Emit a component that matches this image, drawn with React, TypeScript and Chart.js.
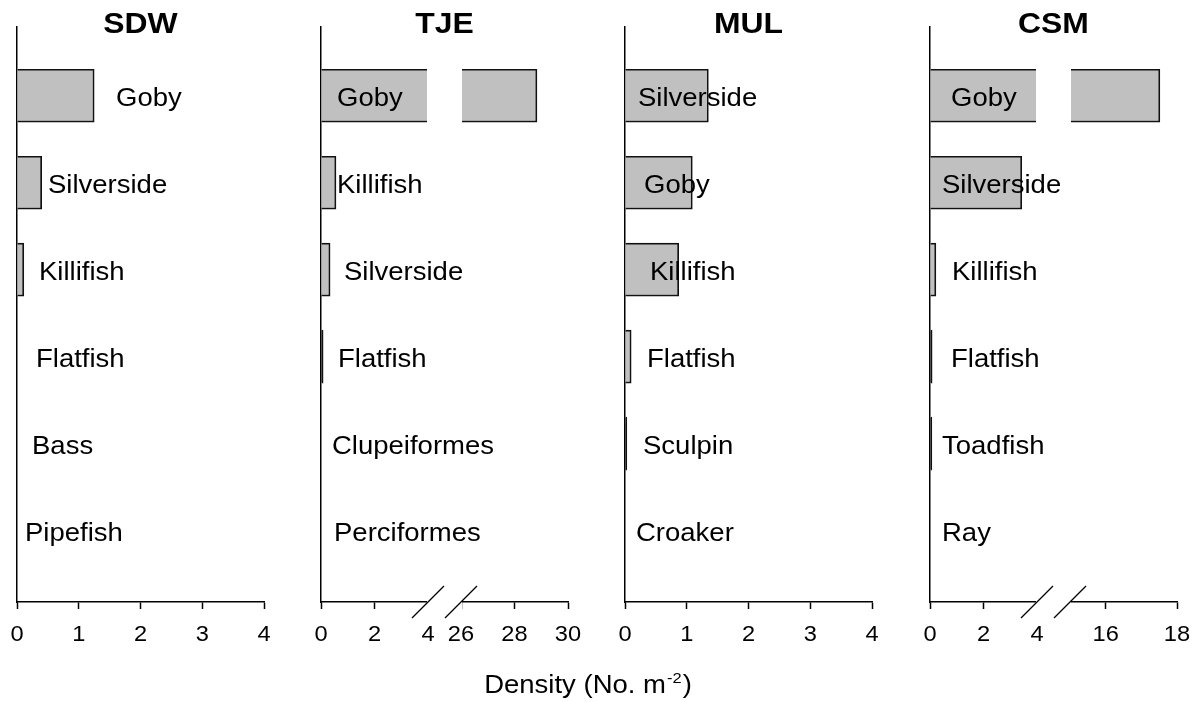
import React, { useEffect, useRef } from "react";
import { Chart, registerables } from "chart.js";
Chart.register(...registerables);

// ---------------- data ----------------
const siteNames = ["SDW", "TJE", "MUL", "CSM"];

const sdwSpecies = ["Goby", "Silverside", "Killifish", "Flatfish", "Bass", "Pipefish"];
const sdwDensity = [1.25, 0.4, 0.11, 0, 0, 0];
const tjeSpecies = ["Goby", "Killifish", "Silverside", "Flatfish", "Clupeiformes", "Perciformes"];
const tjeDensity = [28.84, 0.56, 0.34, 0.08, 0, 0];
const mulSpecies = ["Silverside", "Goby", "Killifish", "Flatfish", "Sculpin", "Croaker"];
const mulDensity = [1.35, 1.09, 0.87, 0.1, 0.03, 0];
const csmSpecies = ["Goby", "Silverside", "Killifish", "Flatfish", "Toadfish", "Ray"];
const csmDensity = [17.52, 3.43, 0.22, 0.08, 0.07, 0];

const sdwTicks = [0, 1, 2, 3, 4];
const tjeTicks = [0, 2, 4, 26, 28, 30];
const mulTicks = [0, 1, 2, 3, 4];
const csmTicks = [0, 2, 4, 16, 18];

// axis segments (broken axes have two)
const sdwRanges = [[0, 4]];
const tjeRanges = [[0, 4], [26, 30]];
const mulRanges = [[0, 4]];
const csmRanges = [[0, 4], [15, 18]];

const axisTitleMain = "Density (No. m";
const axisTitleSup = "-2";
const axisTitleEnd = ")";

// ---------------- layout / style ----------------
const W = 1195;
const H = 702;
const PANEL_LEFT = [17, 321, 625, 930];
const PANEL_W = 247;
const PLOT_TOP = 27;
const PLOT_BOTTOM = 602;
const BREAK_GAP = 33;
const Y_MIN = -0.79;
const Y_MAX = 5.82;
const BAR_THICK = 53;
const SX = 1.1; // horizontal text stretch
const FONT = "'Liberation Sans', Arial, sans-serif";
const LABEL_OFFSET = [
  [100, 32, 23, 20, 16, 9],
  [17, 17, 24, 18, 12, 14],
  [14, 20, 26, 23, 19, 12],
  [22, 13, 23, 22, 13, 13],
];

const panels = [
  { name: siteNames[0], species: sdwSpecies, density: sdwDensity, ticks: sdwTicks, ranges: sdwRanges },
  { name: siteNames[1], species: tjeSpecies, density: tjeDensity, ticks: tjeTicks, ranges: tjeRanges },
  { name: siteNames[2], species: mulSpecies, density: mulDensity, ticks: mulTicks, ranges: mulRanges },
  { name: siteNames[3], species: csmSpecies, density: csmDensity, ticks: csmTicks, ranges: csmRanges },
];

function makeMap(ranges: number[][]) {
  const n = ranges.length;
  const segW = (PANEL_W - BREAK_GAP * (n - 1)) / n;
  const toDisp = (v: number) => {
    for (let i = 0; i < n; i++) {
      const [a, b] = ranges[i];
      const start = i * (segW + BREAK_GAP);
      if (v <= b || i === n - 1) {
        return start + ((v - a) / (b - a)) * segW;
      }
    }
    return 0;
  };
  const gaps: number[][] = [];
  for (let i = 0; i < n - 1; i++) {
    gaps.push([i * (segW + BREAK_GAP) + segW, (i + 1) * (segW + BREAK_GAP)]);
  }
  return { toDisp, gaps };
}

function sText(ctx: any, text: string, x: number, y: number, align: string, font: string) {
  ctx.save();
  ctx.font = font;
  ctx.textBaseline = "alphabetic";
  ctx.textAlign = "left";
  ctx.fillStyle = "#000";
  const w = ctx.measureText(text).width * SX;
  const x0 = align === "center" ? x - w / 2 : x;
  ctx.translate(x0, y);
  ctx.scale(SX, 1);
  ctx.fillText(text, 0, 0);
  ctx.restore();
  return w;
}

function textWidth(ctx: any, text: string, font: string) {
  ctx.save();
  ctx.font = font;
  const w = ctx.measureText(text).width * SX;
  ctx.restore();
  return w;
}

function Panel({ index }: { index: number }) {
  const ref = useRef<HTMLCanvasElement | null>(null);
  useEffect(() => {
    const p = panels[index];
    const { toDisp, gaps } = makeMap(p.ranges);
    const panelPlugin = {
      id: "panelDecor" + index,
      afterDraw(chart: any) {
        const ctx = chart.ctx;
        const xs = chart.scales.x;
        const ys = chart.scales.y;
        const area = chart.chartArea;
        // axis breaks
        for (const [g0, g1] of gaps) {
          const p0 = xs.getPixelForValue(g0);
          const p1 = xs.getPixelForValue(g1);
          ctx.save();
          ctx.fillStyle = "#fff";
          ctx.fillRect(p0 - 1, area.top, p1 - p0 + 2, area.bottom - area.top + 10);
          ctx.strokeStyle = "#000";
          ctx.lineWidth = 1.3;
          for (const px of [p0, p1]) {
            ctx.beginPath();
            ctx.moveTo(px - 16, area.bottom + 16);
            ctx.lineTo(px + 16, area.bottom - 16);
            ctx.stroke();
          }
          ctx.restore();
        }
        // species labels
        p.species.forEach((s, i) => {
          const y = ys.getPixelForValue(i) + 10.5;
          sText(ctx, s, area.left + LABEL_OFFSET[index][i] - 1, y, "left", `25px ${FONT}`);
        });
        // tick labels
        p.ticks.forEach((t) => {
          const px = xs.getPixelForValue(toDisp(t));
          sText(ctx, String(t), px, 641, "center", `21.5px ${FONT}`);
        });
        // site title
        sText(ctx, p.name, (area.left + area.right) / 2, 33, "center", `bold 29px ${FONT}`);
        // common x-axis title
        if (index === panels.length - 1) {
          const fMain = `25px ${FONT}`;
          const fSup = `15px ${FONT}`;
          const w1 = textWidth(ctx, axisTitleMain, fMain);
          const w2 = textWidth(ctx, axisTitleSup, fSup);
          const w3 = textWidth(ctx, axisTitleEnd, fMain);
          const total = w1 + w2 + w3 + 2;
          let x = 588 - total / 2;
          sText(ctx, axisTitleMain, x, 693, "left", fMain);
          x += w1 + 1;
          sText(ctx, axisTitleSup, x, 683, "left", fSup);
          x += w2 + 1;
          sText(ctx, axisTitleEnd, x, 693, "left", fMain);
        }
      },
    };

    const chart = new Chart(ref.current as HTMLCanvasElement, {
      type: "bar",
      data: {
        datasets: [
          {
            data: p.density.map((v, i) => ({ x: toDisp(v), y: i })),
            // very thin bars read as a solid outline stroke
            backgroundColor: (c: any) => {
              const raw = c.raw;
              return raw && raw.x < 3 ? "#111" : "#c0c0c0";
            },
            borderColor: "#111",
            borderWidth: 1.7,
            borderSkipped: "start",
            barThickness: BAR_THICK,
          },
        ],
      },
      options: {
        indexAxis: "y",
        animation: false,
        responsive: false,
        devicePixelRatio: 1,
        events: [],
        layout: {
          padding: {
            left: PANEL_LEFT[index],
            right: W - PANEL_LEFT[index] - PANEL_W,
            top: PLOT_TOP,
            bottom: 0,
          },
        },
        plugins: { legend: { display: false }, tooltip: { enabled: false }, title: { display: false } },
        scales: {
          x: {
            type: "linear",
            position: "bottom",
            min: 0,
            max: PANEL_W,
            offset: false,
            afterBuildTicks: (s: any) => {
              s.ticks = p.ticks.map((t) => ({ value: toDisp(t) }));
            },
            afterFit: (s: any) => {
              s.height = H - PLOT_BOTTOM;
            },
            ticks: { display: false },
            grid: {
              display: true,
              drawOnChartArea: false,
              drawTicks: true,
              tickLength: 7,
              tickWidth: 1.5,
              tickColor: "#000",
              offset: false,
            },
            border: { display: true, color: "#000", width: 1.5 },
          },
          y: {
            type: "linear",
            position: "left",
            reverse: true,
            min: Y_MIN,
            max: Y_MAX,
            offset: false,
            afterFit: (s: any) => {
              s.width = 0;
            },
            ticks: { display: false },
            grid: { display: false, offset: false },
            border: { display: true, color: "#000", width: 1.5 },
          },
        },
      } as any,
      plugins: [panelPlugin],
    } as any);
    return () => chart.destroy();
  }, [index]);
  return (
    <canvas
      ref={ref}
      width={W}
      height={H}
      style={{ position: "absolute", left: 0, top: 0, width: W, height: H }}
    />
  );
}

export default function App() {
  return (
    <div style={{ position: "absolute", left: 0, top: 0, width: W, height: H, background: "#fff" }}>
      {panels.map((_, i) => (
        <Panel key={i} index={i} />
      ))}
    </div>
  );
}
